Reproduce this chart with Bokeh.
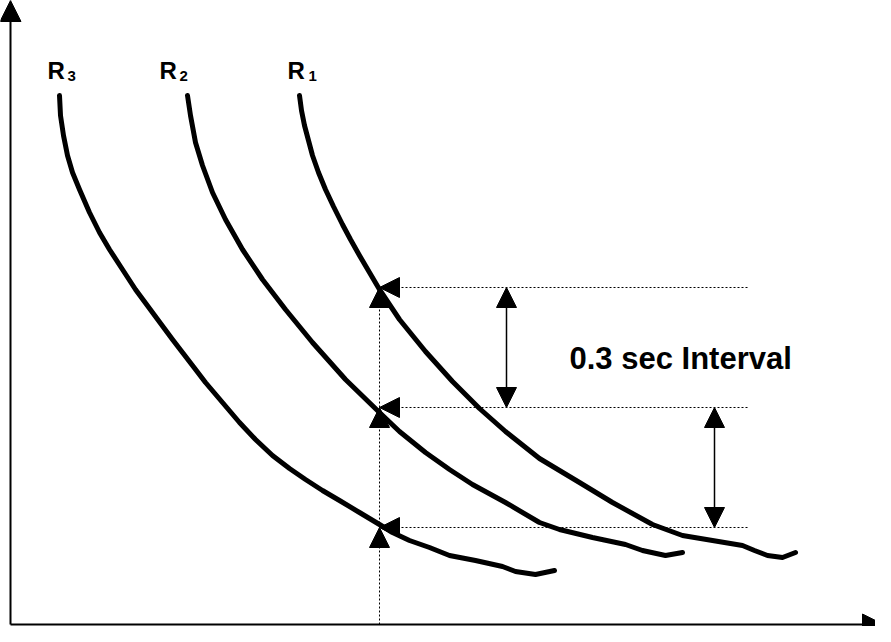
from bokeh.plotting import figure
from bokeh.models import Range1d, Arrow, NormalHead, ColumnDataSource
from bokeh.core.properties import value
from bokeh.embed import file_html
from bokeh.resources import INLINE

# ---- data (chart units: x to the right of the y-axis, y above the x-axis) ----
r1_x = [289, 291, 294, 298, 302, 308, 315, 323, 332, 340, 349, 359, 369, 389, 415, 442, 469, 495,
        529, 569, 602, 642, 672, 702, 732, 744, 757, 772, 785]
r1_y = [528, 513, 498, 483, 468, 451, 434, 417, 399, 384, 368, 351, 334, 304, 272, 242, 215, 192,
        165, 141, 121, 99, 88, 83, 78, 73, 68, 66, 71]

r2_x = [177, 180, 185, 192, 202, 215, 232, 252, 275, 302, 335, 369, 389, 415, 439, 462, 495, 529,
        549, 582, 615, 632, 655, 672]
r2_y = [528, 508, 481, 458, 431, 404, 374, 344, 314, 281, 244, 211, 192, 171, 154, 139, 121, 101,
        94, 86, 79, 73, 68, 71]

r3_x = [49, 50, 53, 57, 62, 69, 79, 89, 99, 112, 125, 142, 162, 182, 195, 212, 229, 245, 262, 279,
        295, 312, 329, 349, 369, 382, 399, 419, 439, 465, 492, 505, 525, 544]
r3_y = [528, 508, 488, 468, 451, 434, 411, 391, 374, 354, 334, 311, 284, 258, 241, 221, 201, 184,
        168, 155, 144, 133, 123, 111, 99, 91, 83, 76, 68, 63, 57, 52, 49, 53]

curve_labels = ["R", "R", "R"]
curve_subs = ["3", "2", "1"]
label_x = [37, 149, 277]
label_y = [553, 553, 553]
sub_x = [57, 169, 298]
sub_y = [548, 548, 548]

measure_x = 369                 # time where the three curves are read
cross_y = [96, 216, 336]        # R3, R2, R1 crossing levels
guide_end_x = 737               # right end of the dotted guides
interval_x = [496, 704]         # double arrows
interval_top = [336, 216]
interval_bottom = [216, 96]
interval_text = "0.3 sec Interval"
interval_text_x = 559
interval_text_y = 265

x_axis_end = 873
y_axis_end = 623

# ---- figure ----
p = figure(width=875, height=626, output_backend="svg", toolbar_location=None,
           x_range=Range1d(-10, 865), y_range=Range1d(-3, 623),
           x_axis_type=None, y_axis_type=None, min_border=0,
           outline_line_color=None, background_fill_color="white",
           border_fill_color="white")
p.grid.visible = False

for xs, ys in [(r1_x, r1_y), (r2_x, r2_y), (r3_x, r3_y)]:
    p.line(xs, ys, line_width=5, line_color="black", line_join="round", line_cap="round")

# axes as arrows
axes_src = ColumnDataSource(dict(xs=[0, 0], ys=[-1, -1], xe=[x_axis_end, 0], ye=[-1, y_axis_end]))
p.add_layout(Arrow(x_start="xs", y_start="ys", x_end="xe", y_end="ye", source=axes_src,
                   line_width=2, line_color="black",
                   end=NormalHead(size=21, fill_color="black", line_color="black")))

# vertical dotted guide with up arrowheads at each crossing
v_src = ColumnDataSource(dict(xs=[measure_x] * 3, ys=[-1] + cross_y[:2],
                              xe=[measure_x] * 3, ye=cross_y))
p.add_layout(Arrow(x_start="xs", y_start="ys", x_end="xe", y_end="ye", source=v_src,
                   line_width=1, line_color="black", line_dash="2 2",
                   end=NormalHead(size=20, fill_color="black", line_color="black", line_width=1)))

# horizontal dotted guides with left arrowheads
h_src = ColumnDataSource(dict(xs=[guide_end_x] * 3, ys=cross_y,
                              xe=[measure_x] * 3, ye=cross_y))
p.add_layout(Arrow(x_start="xs", y_start="ys", x_end="xe", y_end="ye", source=h_src,
                   line_width=1, line_color="black", line_dash="2 2",
                   end=NormalHead(size=20, fill_color="black", line_color="black", line_width=1)))

# interval double arrows
i_src = ColumnDataSource(dict(xs=interval_x, ys=interval_top, xe=interval_x, ye=interval_bottom))
p.add_layout(Arrow(x_start="xs", y_start="ys", x_end="xe", y_end="ye", source=i_src,
                   line_width=1.5, line_color="black",
                   start=NormalHead(size=20, fill_color="black", line_color="black", line_width=1),
                   end=NormalHead(size=20, fill_color="black", line_color="black", line_width=1)))

# labels
p.text(x=label_x, y=label_y, text=curve_labels, text_font=value("Liberation Sans"),
       text_font_style="bold", text_font_size=value("24px"), text_color="black",
       text_align="left", text_baseline="alphabetic")
p.text(x=sub_x, y=sub_y, text=curve_subs, text_font=value("Liberation Sans"),
       text_font_style="bold", text_font_size=value("15px"), text_color="black",
       text_align="left", text_baseline="alphabetic")
p.text(x=[interval_text_x], y=[interval_text_y], text=[interval_text],
       text_font=value("Liberation Sans"), text_font_style="bold",
       text_font_size=value("31px"), text_color="black",
       text_align="left", text_baseline="alphabetic")

open("out.html", "w").write(file_html(p, INLINE))
